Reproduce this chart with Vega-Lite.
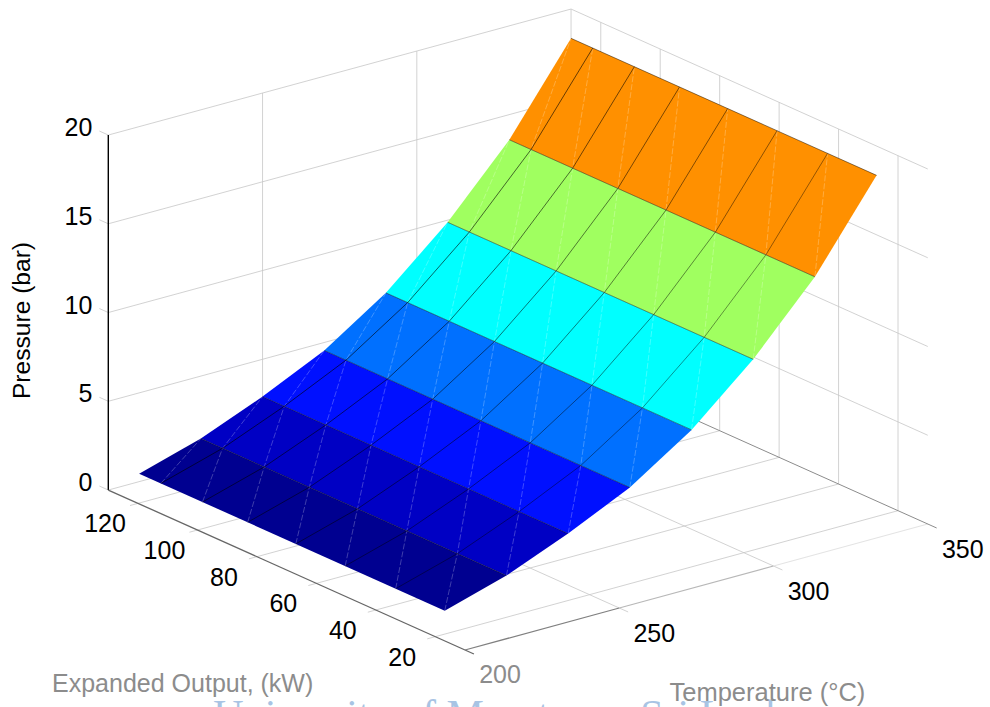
{
"$schema":"https://vega.github.io/schema/vega-lite/v6.json",
"width":990,"height":707,"padding":0,"autosize":{"type":"none"},
"background":"white",
"view":{"stroke":null},
"config":{"text":{"font":"Liberation Sans"}},
"resolve":{"scale":{"color":"independent","opacity":"independent","strokeWidth":"independent"}},
"datasets":{
"box":[
{"id":"z0a","s":1,"T":350,"O":130,"P":0},{"id":"z0a","s":2,"T":200,"O":130,"P":0},{"id":"z0a","s":3,"T":200,"O":133,"P":0},
{"id":"z5a","s":1,"T":350,"O":130,"P":5},{"id":"z5a","s":2,"T":200,"O":130,"P":5},{"id":"z5a","s":3,"T":200,"O":133,"P":5},
{"id":"z10a","s":1,"T":350,"O":130,"P":10},{"id":"z10a","s":2,"T":200,"O":130,"P":10},{"id":"z10a","s":3,"T":200,"O":133,"P":10},
{"id":"z15a","s":1,"T":350,"O":130,"P":15},{"id":"z15a","s":2,"T":200,"O":130,"P":15},{"id":"z15a","s":3,"T":200,"O":133,"P":15},
{"id":"z20a","s":1,"T":350,"O":130,"P":20},{"id":"z20a","s":2,"T":200,"O":130,"P":20},{"id":"z20a","s":3,"T":200,"O":133,"P":20},
{"id":"z5b","s":1,"T":350,"O":130,"P":5},{"id":"z5b","s":2,"T":350,"O":10,"P":5},
{"id":"z10b","s":1,"T":350,"O":130,"P":10},{"id":"z10b","s":2,"T":350,"O":10,"P":10},
{"id":"z15b","s":1,"T":350,"O":130,"P":15},{"id":"z15b","s":2,"T":350,"O":10,"P":15},
{"id":"z20b","s":1,"T":350,"O":130,"P":20},{"id":"z20b","s":2,"T":350,"O":10,"P":20},
{"id":"v250","s":1,"T":250,"O":130,"P":0},{"id":"v250","s":2,"T":250,"O":130,"P":20},
{"id":"v300","s":1,"T":300,"O":130,"P":0},{"id":"v300","s":2,"T":300,"O":130,"P":20},
{"id":"v350","s":1,"T":350,"O":130,"P":0},{"id":"v350","s":2,"T":350,"O":130,"P":20},
{"id":"v120","s":1,"T":350,"O":120,"P":0},{"id":"v120","s":2,"T":350,"O":120,"P":20},
{"id":"v100","s":1,"T":350,"O":100,"P":0},{"id":"v100","s":2,"T":350,"O":100,"P":20},
{"id":"v80","s":1,"T":350,"O":80,"P":0},{"id":"v80","s":2,"T":350,"O":80,"P":20},
{"id":"v60","s":1,"T":350,"O":60,"P":0},{"id":"v60","s":2,"T":350,"O":60,"P":20},
{"id":"v40","s":1,"T":350,"O":40,"P":0},{"id":"v40","s":2,"T":350,"O":40,"P":20},
{"id":"v20","s":1,"T":350,"O":20,"P":0},{"id":"v20","s":2,"T":350,"O":20,"P":20},
{"id":"f250","s":1,"T":250,"O":130,"P":0},{"id":"f250","s":2,"T":250,"O":7,"P":0},
{"id":"f300","s":1,"T":300,"O":130,"P":0},{"id":"f300","s":2,"T":300,"O":7,"P":0},
{"id":"f120","s":1,"T":350,"O":120,"P":0},{"id":"f120","s":2,"T":197.4,"O":120,"P":0},
{"id":"f100","s":1,"T":350,"O":100,"P":0},{"id":"f100","s":2,"T":197.4,"O":100,"P":0},
{"id":"f80","s":1,"T":350,"O":80,"P":0},{"id":"f80","s":2,"T":197.4,"O":80,"P":0},
{"id":"f60","s":1,"T":350,"O":60,"P":0},{"id":"f60","s":2,"T":197.4,"O":60,"P":0},
{"id":"f40","s":1,"T":350,"O":40,"P":0},{"id":"f40","s":2,"T":197.4,"O":40,"P":0},
{"id":"f20","s":1,"T":350,"O":20,"P":0},{"id":"f20","s":2,"T":197.4,"O":20,"P":0}
],
"axes":[
{"id":"zaxis","s":1,"T":200,"O":130,"P":0},{"id":"zaxis","s":2,"T":200,"O":130,"P":20},
{"id":"oaxis","s":1,"T":200,"O":130,"P":0},{"id":"oaxis","s":2,"T":200,"O":7,"P":0},
{"id":"taxis1","s":1,"T":200,"O":10,"P":0},{"id":"taxis1","s":2,"T":250,"O":10,"P":0},
{"id":"taxis2","s":1,"T":250,"O":10,"P":0},{"id":"taxis2","s":2,"T":300,"O":10,"P":0},
{"id":"taxis3","s":1,"T":300,"O":10,"P":0},{"id":"taxis3","s":2,"T":350,"O":10,"P":0},
{"id":"raxis","s":1,"T":350,"O":130,"P":0},{"id":"raxis","s":2,"T":350,"O":7,"P":0}
],
"surface":[
{"b":1,"s":1,"T":210,"O":27.2,"P":0.45},{"b":1,"s":2,"T":230,"O":27.2,"P":1.48},{"b":1,"s":3,"T":230,"O":130,"P":1.48},{"b":1,"s":4,"T":210,"O":130,"P":0.45},
{"b":2,"s":1,"T":230,"O":27.2,"P":1.48},{"b":2,"s":2,"T":250,"O":27.2,"P":2.9},{"b":2,"s":3,"T":250,"O":130,"P":2.9},{"b":2,"s":4,"T":230,"O":130,"P":1.48},
{"b":3,"s":1,"T":250,"O":27.2,"P":2.9},{"b":3,"s":2,"T":270,"O":27.2,"P":4.55},{"b":3,"s":3,"T":270,"O":130,"P":4.55},{"b":3,"s":4,"T":250,"O":130,"P":2.9},
{"b":4,"s":1,"T":270,"O":27.2,"P":4.55},{"b":4,"s":2,"T":290,"O":27.2,"P":6.85},{"b":4,"s":3,"T":290,"O":130,"P":6.85},{"b":4,"s":4,"T":270,"O":130,"P":4.55},
{"b":5,"s":1,"T":290,"O":27.2,"P":6.85},{"b":5,"s":2,"T":310,"O":27.2,"P":9.88},{"b":5,"s":3,"T":310,"O":130,"P":9.88},{"b":5,"s":4,"T":290,"O":130,"P":6.85},
{"b":6,"s":1,"T":310,"O":27.2,"P":9.88},{"b":6,"s":2,"T":330,"O":27.2,"P":13.58},{"b":6,"s":3,"T":330,"O":130,"P":13.58},{"b":6,"s":4,"T":310,"O":130,"P":9.88},
{"b":7,"s":1,"T":330,"O":27.2,"P":13.58},{"b":7,"s":2,"T":350,"O":27.2,"P":18.35},{"b":7,"s":3,"T":350,"O":130,"P":18.35},{"b":7,"s":4,"T":330,"O":130,"P":13.58}
],
"olines":[
{"O":43.7,"T":210,"P":0.45},{"O":43.7,"T":230,"P":1.48},{"O":43.7,"T":250,"P":2.9},{"O":43.7,"T":270,"P":4.55},{"O":43.7,"T":290,"P":6.85},{"O":43.7,"T":310,"P":9.88},{"O":43.7,"T":330,"P":13.58},{"O":43.7,"T":350,"P":18.35},
{"O":60.7,"T":210,"P":0.45},{"O":60.7,"T":230,"P":1.48},{"O":60.7,"T":250,"P":2.9},{"O":60.7,"T":270,"P":4.55},{"O":60.7,"T":290,"P":6.85},{"O":60.7,"T":310,"P":9.88},{"O":60.7,"T":330,"P":13.58},{"O":60.7,"T":350,"P":18.35},
{"O":77.3,"T":210,"P":0.45},{"O":77.3,"T":230,"P":1.48},{"O":77.3,"T":250,"P":2.9},{"O":77.3,"T":270,"P":4.55},{"O":77.3,"T":290,"P":6.85},{"O":77.3,"T":310,"P":9.88},{"O":77.3,"T":330,"P":13.58},{"O":77.3,"T":350,"P":18.35},
{"O":93.5,"T":210,"P":0.45},{"O":93.5,"T":230,"P":1.48},{"O":93.5,"T":250,"P":2.9},{"O":93.5,"T":270,"P":4.55},{"O":93.5,"T":290,"P":6.85},{"O":93.5,"T":310,"P":9.88},{"O":93.5,"T":330,"P":13.58},{"O":93.5,"T":350,"P":18.35},
{"O":108.7,"T":210,"P":0.45},{"O":108.7,"T":230,"P":1.48},{"O":108.7,"T":250,"P":2.9},{"O":108.7,"T":270,"P":4.55},{"O":108.7,"T":290,"P":6.85},{"O":108.7,"T":310,"P":9.88},{"O":108.7,"T":330,"P":13.58},{"O":108.7,"T":350,"P":18.35},
{"O":122.7,"T":210,"P":0.45},{"O":122.7,"T":230,"P":1.48},{"O":122.7,"T":250,"P":2.9},{"O":122.7,"T":270,"P":4.55},{"O":122.7,"T":290,"P":6.85},{"O":122.7,"T":310,"P":9.88},{"O":122.7,"T":330,"P":13.58},{"O":122.7,"T":350,"P":18.35}
],
"tlines":[
{"T":230,"O":27.2,"P":1.48},{"T":230,"O":130,"P":1.48},
{"T":250,"O":27.2,"P":2.9},{"T":250,"O":130,"P":2.9},
{"T":270,"O":27.2,"P":4.55},{"T":270,"O":130,"P":4.55},
{"T":290,"O":27.2,"P":6.85},{"T":290,"O":130,"P":6.85},
{"T":310,"O":27.2,"P":9.88},{"T":310,"O":130,"P":9.88},
{"T":330,"O":27.2,"P":13.58},{"T":330,"O":130,"P":13.58},
{"T":350,"O":27.2,"P":18.35},{"T":350,"O":130,"P":18.35}
],
"diagonals":[
{"k":0,"T":210,"O":27.2,"P":0.45},{"k":0,"T":230,"O":43.7,"P":1.48},{"k":0,"T":250,"O":60.7,"P":2.9},{"k":0,"T":270,"O":77.3,"P":4.55},{"k":0,"T":290,"O":93.5,"P":6.85},{"k":0,"T":310,"O":108.7,"P":9.88},{"k":0,"T":330,"O":122.7,"P":13.58},{"k":0,"T":350,"O":130,"P":18.35},
{"k":1,"T":210,"O":43.7,"P":0.45},{"k":1,"T":230,"O":60.7,"P":1.48},{"k":1,"T":250,"O":77.3,"P":2.9},{"k":1,"T":270,"O":93.5,"P":4.55},{"k":1,"T":290,"O":108.7,"P":6.85},{"k":1,"T":310,"O":122.7,"P":9.88},{"k":1,"T":330,"O":130,"P":13.58},
{"k":2,"T":210,"O":60.7,"P":0.45},{"k":2,"T":230,"O":77.3,"P":1.48},{"k":2,"T":250,"O":93.5,"P":2.9},{"k":2,"T":270,"O":108.7,"P":4.55},{"k":2,"T":290,"O":122.7,"P":6.85},{"k":2,"T":310,"O":130,"P":9.88},
{"k":3,"T":210,"O":77.3,"P":0.45},{"k":3,"T":230,"O":93.5,"P":1.48},{"k":3,"T":250,"O":108.7,"P":2.9},{"k":3,"T":270,"O":122.7,"P":4.55},{"k":3,"T":290,"O":130,"P":6.85},
{"k":4,"T":210,"O":93.5,"P":0.45},{"k":4,"T":230,"O":108.7,"P":1.48},{"k":4,"T":250,"O":122.7,"P":2.9},{"k":4,"T":270,"O":130,"P":4.55},
{"k":5,"T":210,"O":108.7,"P":0.45},{"k":5,"T":230,"O":122.7,"P":1.48},{"k":5,"T":250,"O":130,"P":2.9},
{"k":6,"T":210,"O":122.7,"P":0.45},{"k":6,"T":230,"O":130,"P":1.48},
{"k":-1,"T":230,"O":27.2,"P":1.48},{"k":-1,"T":250,"O":43.7,"P":2.9},{"k":-1,"T":270,"O":60.7,"P":4.55},{"k":-1,"T":290,"O":77.3,"P":6.85},{"k":-1,"T":310,"O":93.5,"P":9.88},{"k":-1,"T":330,"O":108.7,"P":13.58},{"k":-1,"T":350,"O":122.7,"P":18.35},
{"k":-2,"T":250,"O":27.2,"P":2.9},{"k":-2,"T":270,"O":43.7,"P":4.55},{"k":-2,"T":290,"O":60.7,"P":6.85},{"k":-2,"T":310,"O":77.3,"P":9.88},{"k":-2,"T":330,"O":93.5,"P":13.58},{"k":-2,"T":350,"O":108.7,"P":18.35},
{"k":-3,"T":270,"O":27.2,"P":4.55},{"k":-3,"T":290,"O":43.7,"P":6.85},{"k":-3,"T":310,"O":60.7,"P":9.88},{"k":-3,"T":330,"O":77.3,"P":13.58},{"k":-3,"T":350,"O":93.5,"P":18.35},
{"k":-4,"T":290,"O":27.2,"P":6.85},{"k":-4,"T":310,"O":43.7,"P":9.88},{"k":-4,"T":330,"O":60.7,"P":13.58},{"k":-4,"T":350,"O":77.3,"P":18.35},
{"k":-5,"T":310,"O":27.2,"P":9.88},{"k":-5,"T":330,"O":43.7,"P":13.58},{"k":-5,"T":350,"O":60.7,"P":18.35},
{"k":-6,"T":330,"O":27.2,"P":13.58},{"k":-6,"T":350,"O":43.7,"P":18.35}
]
},
"encoding":{
"x":{"field":"sx","type":"quantitative","scale":{"domain":[0,990]},"axis":null},
"y":{"field":"sy","type":"quantitative","scale":{"domain":[0,707],"reverse":true},"axis":null}
},
"layer":[
{"data":{"name":"box"},
 "transform":[{"calculate":"465+3.085*(datum.T-200)-2.9725*(datum.O-10)","as":"sx"},{"calculate":"650-0.84*(datum.T-200)-1.333*(datum.O-10)-17.75*datum.P","as":"sy"}],
 "mark":{"type":"line","stroke":"#c6c6c6","strokeWidth":0.8},
 "encoding":{"detail":{"field":"id"},"order":{"field":"s"}}},
{"data":{"name":"axes"},
 "transform":[{"calculate":"465+3.085*(datum.T-200)-2.9725*(datum.O-10)","as":"sx"},{"calculate":"650-0.84*(datum.T-200)-1.333*(datum.O-10)-17.75*datum.P","as":"sy"}],
 "mark":{"type":"line"},
 "encoding":{"detail":{"field":"id"},"order":{"field":"s"},
 "color":{"field":"id","type":"nominal","legend":null,"scale":{"domain":["zaxis","oaxis","taxis1","taxis2","taxis3","raxis"],"range":["#000000","#666666","#808080","#b8b8b8","#e4e4e4","#8c8c8c"]}},
 "strokeWidth":{"field":"id","type":"nominal","legend":null,"scale":{"domain":["zaxis","oaxis","taxis1","taxis2","taxis3","raxis"],"range":[1.4,1,0.8,0.8,0.8,0.8]}}}},
{"data":{"name":"surface"},
 "transform":[{"calculate":"465+3.085*(datum.T-200)-2.9725*(datum.O-10)","as":"sx"},{"calculate":"650-0.84*(datum.T-200)-1.333*(datum.O-10)-17.75*datum.P","as":"sy"}],
 "mark":{"type":"line","filled":true,"interpolate":"linear-closed"},
 "encoding":{"order":{"field":"s"},
 "color":{"field":"b","type":"nominal","legend":null,"scale":{"domain":[1,2,3,4,5,6,7],"range":["#000090","#0000c4","#0010ff","#0070ff","#00ffff","#a0ff60","#ff9000"]}}}},
{"data":{"name":"diagonals"},
 "transform":[{"calculate":"465+3.085*(datum.T-200)-2.9725*(datum.O-10)","as":"sx"},{"calculate":"650-0.84*(datum.T-200)-1.333*(datum.O-10)-17.75*datum.P","as":"sy"}],
 "mark":{"type":"line","stroke":"#ffffff","strokeWidth":0.7,"opacity":0.35,"strokeDash":[6,2]},
 "encoding":{"detail":{"field":"k"},"order":{"field":"T"}}},
{"data":{"name":"olines"},
 "transform":[{"calculate":"465+3.085*(datum.T-200)-2.9725*(datum.O-10)","as":"sx"},{"calculate":"650-0.84*(datum.T-200)-1.333*(datum.O-10)-17.75*datum.P","as":"sy"}],
 "mark":{"type":"line","stroke":"#000000","strokeWidth":0.7},
 "encoding":{"detail":{"field":"O"},"order":{"field":"T"},
 "opacity":{"field":"O","type":"nominal","legend":null,"scale":{"domain":[43.7,60.7,77.3,93.5,108.7,122.7],"range":[0.6,0.85,0.3,0.9,0.7,0.45]}}}},
{"data":{"name":"tlines"},
 "transform":[{"calculate":"465+3.085*(datum.T-200)-2.9725*(datum.O-10)","as":"sx"},{"calculate":"650-0.84*(datum.T-200)-1.333*(datum.O-10)-17.75*datum.P","as":"sy"}],
 "mark":{"type":"line","stroke":"#000000","strokeWidth":0.7,"opacity":0.65},
 "encoding":{"detail":{"field":"T"},"order":{"field":"O"}}},
{"data":{"values":[{"t":"0","T":200,"O":130,"P":0},{"t":"5","T":200,"O":130,"P":5},{"t":"10","T":200,"O":130,"P":10},{"t":"15","T":200,"O":130,"P":15},{"t":"20","T":200,"O":130,"P":20}]},
 "transform":[{"calculate":"465+3.085*(datum.T-200)-2.9725*(datum.O-10)","as":"sx"},{"calculate":"650-0.84*(datum.T-200)-1.333*(datum.O-10)-17.75*datum.P","as":"sy"}],
 "mark":{"type":"text","align":"right","baseline":"middle","dx":-16,"dy":-7,"fontSize":25,"color":"#000000"},
 "encoding":{"text":{"field":"t"}}},
{"data":{"values":[{"t":"120","T":200,"O":120,"P":0},{"t":"100","T":200,"O":100,"P":0},{"t":"80","T":200,"O":80,"P":0},{"t":"60","T":200,"O":60,"P":0},{"t":"40","T":200,"O":40,"P":0},{"t":"20","T":200,"O":20,"P":0}]},
 "transform":[{"calculate":"465+3.085*(datum.T-200)-2.9725*(datum.O-10)","as":"sx"},{"calculate":"650-0.84*(datum.T-200)-1.333*(datum.O-10)-17.75*datum.P","as":"sy"}],
 "mark":{"type":"text","align":"center","baseline":"middle","dx":-33,"dy":21,"fontSize":25,"color":"#000000"},
 "encoding":{"text":{"field":"t"}}},
{"data":{"values":[{"t":"250","T":250,"O":10,"P":0},{"t":"300","T":300,"O":10,"P":0},{"t":"350","T":350,"O":10,"P":0}]},
 "transform":[{"calculate":"465+3.085*(datum.T-200)-2.9725*(datum.O-10)","as":"sx"},{"calculate":"650-0.84*(datum.T-200)-1.333*(datum.O-10)-17.75*datum.P","as":"sy"}],
 "mark":{"type":"text","align":"center","baseline":"middle","dx":35,"dy":26,"fontSize":25,"color":"#000000"},
 "encoding":{"text":{"field":"t"}}},
{"data":{"values":[{"t":"200","T":200,"O":10,"P":0}]},
 "transform":[{"calculate":"465+3.085*(datum.T-200)-2.9725*(datum.O-10)","as":"sx"},{"calculate":"650-0.84*(datum.T-200)-1.333*(datum.O-10)-17.75*datum.P","as":"sy"}],
 "mark":{"type":"text","align":"center","baseline":"middle","dx":35,"dy":25,"fontSize":25,"color":"#8c8c8c"},
 "encoding":{"text":{"field":"t"}}},
{"data":{"values":[{"t":"Pressure (bar)","T":200,"O":130,"P":9.55}]},
 "transform":[{"calculate":"465+3.085*(datum.T-200)-2.9725*(datum.O-10)","as":"sx"},{"calculate":"650-0.84*(datum.T-200)-1.333*(datum.O-10)-17.75*datum.P","as":"sy"}],
 "mark":{"type":"text","align":"center","baseline":"middle","angle":270,"dy":-85,"fontSize":24.6,"color":"#000000"},
 "encoding":{"text":{"field":"t"}}},
{"data":{"values":[{"t":"University of Moratuwa, Sri Lanka","T":200,"O":10,"P":0}]},
 "transform":[{"calculate":"465+3.085*(datum.T-200)-2.9725*(datum.O-10)","as":"sx"},{"calculate":"650-0.84*(datum.T-200)-1.333*(datum.O-10)-17.75*datum.P","as":"sy"}],
 "mark":{"type":"text","align":"center","baseline":"alphabetic","dx":44,"dy":79,"fontSize":42,"font":"Liberation Serif","color":"#a8c4e4"},
 "encoding":{"text":{"field":"t"}}},
{"data":{"values":[{"t":"Expanded Output, (kW)","T":200,"O":70,"P":0}]},
 "transform":[{"calculate":"465+3.085*(datum.T-200)-2.9725*(datum.O-10)","as":"sx"},{"calculate":"650-0.84*(datum.T-200)-1.333*(datum.O-10)-17.75*datum.P","as":"sy"}],
 "mark":{"type":"text","align":"center","baseline":"middle","dx":-104,"dy":114,"fontSize":25,"color":"#8c8c8c"},
 "encoding":{"text":{"field":"t"}}},
{"data":{"values":[{"t":"Temperature (°C)","T":275,"O":10,"P":0}]},
 "transform":[{"calculate":"465+3.085*(datum.T-200)-2.9725*(datum.O-10)","as":"sx"},{"calculate":"650-0.84*(datum.T-200)-1.333*(datum.O-10)-17.75*datum.P","as":"sy"}],
 "mark":{"type":"text","align":"center","baseline":"middle","dx":71,"dy":106,"fontSize":25.5,"color":"#8c8c8c"},
 "encoding":{"text":{"field":"t"}}}
]
}
